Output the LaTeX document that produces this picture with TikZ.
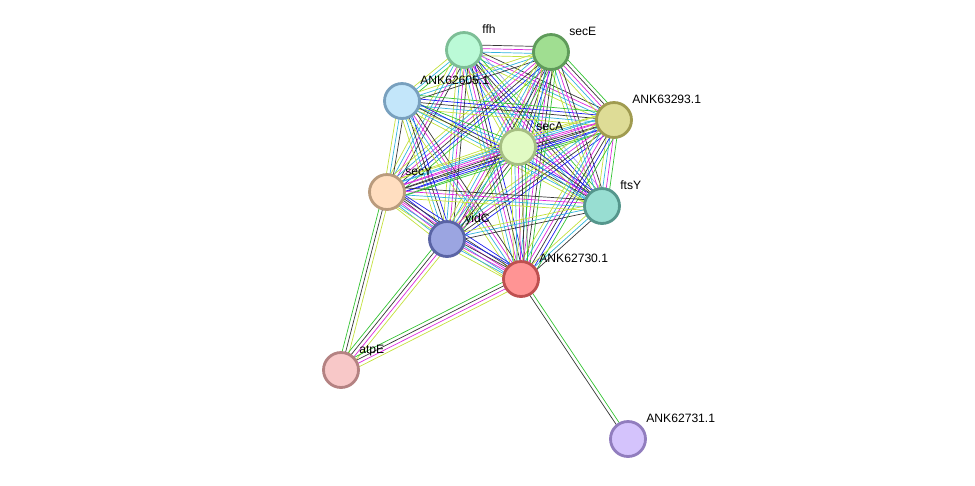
\documentclass[tikz,border=0pt]{standalone}
\usepackage{fontspec}
\setmainfont{Liberation Sans}
\usetikzlibrary{calc,backgrounds}

% evidence colours
\definecolor{textm}{RGB}{195,225,60}
\definecolor{datab}{RGB}{50,180,220}
\definecolor{exper}{RGB}{220,40,220}
\definecolor{coexp}{RGB}{55,55,55}
\definecolor{cooc}{RGB}{30,30,240}
\definecolor{neigh}{RGB}{50,195,50}
\definecolor{homol}{RGB}{165,165,240}

% protein colours
\definecolor{ffhF}{RGB}{187,250,215}   \definecolor{ffhD}{RGB}{125,190,150}
\definecolor{secEF}{RGB}{160,222,145}  \definecolor{secED}{RGB}{95,155,90}
\definecolor{aF}{RGB}{195,230,250}     \definecolor{aD}{RGB}{120,160,190}
\definecolor{bF}{RGB}{222,220,150}     \definecolor{bD}{RGB}{160,155,80}
\definecolor{secAF}{RGB}{225,250,195}  \definecolor{secAD}{RGB}{165,190,130}
\definecolor{secYF}{RGB}{255,222,192}  \definecolor{secYD}{RGB}{185,155,125}
\definecolor{ftsYF}{RGB}{152,222,210}  \definecolor{ftsYD}{RGB}{85,150,140}
\definecolor{yidCF}{RGB}{155,165,225}  \definecolor{yidCD}{RGB}{90,100,165}
\definecolor{cF}{RGB}{255,148,148}     \definecolor{cD}{RGB}{190,80,80}
\definecolor{atpEF}{RGB}{248,200,200}  \definecolor{atpED}{RGB}{180,130,130}
\definecolor{dF}{RGB}{212,195,252}     \definecolor{dD}{RGB}{145,125,190}

\tikzset{
  prot/.style args={#1/#2}{circle,minimum size=0.70cm,inner sep=0pt,line width=1.6pt,fill=#1,draw=#2},
  lbl/.style={anchor=base west,inner sep=0pt,font=\fontsize{6.9}{8}\selectfont}
}

% one line per evidence channel, side by side
\newcommand{\strlink}[3]{%
  \foreach \c [count=\k] in {#3} {\xdef\nlines{\k}}%
  \foreach \c [count=\k] in {#3} {%
    \pgfmathsetmacro{\off}{(\k-(\nlines+1)/2)*2.0}%
    \draw[\c] ($(#1)!\off pt!90:(#2)$) -- ($(#2)!\off pt!-90:(#1)$);
  }%
}

\begin{document}
\begin{tikzpicture}[x=0.02cm,y=-0.02cm]
\useasboundingbox (0,0) rectangle (975,485);

\node[prot=ffhF/ffhD] (ffh) at (464,50) {};
\node[prot=secEF/secED] (secE) at (551,52) {};
\node[prot=aF/aD] (p62605) at (402,101) {};
\node[prot=bF/bD] (p63293) at (614,120) {};
\node[prot=secAF/secAD] (secA) at (518,147) {};
\node[prot=secYF/secYD] (secY) at (387,192) {};
\node[prot=ftsYF/ftsYD] (ftsY) at (602,206) {};
\node[prot=yidCF/yidCD] (yidC) at (447,239) {};
\node[prot=cF/cD] (p62730) at (521,279) {};
\node[prot=atpEF/atpED] (atpE) at (341,370) {};
\node[prot=dF/dD] (p62731) at (628,439) {};

\foreach \n/\t in {ffh/ffh, secE/secE, p62605/ANK62605.1, p63293/ANK63293.1,
  secA/secA, secY/secY, ftsY/ftsY, yidC/yidC, p62730/ANK62730.1,
  atpE/atpE, p62731/ANK62731.1}
  \node[lbl] (\n-l) at ($(\n)+(18,-17)$) {\t};

\begin{scope}[on background layer,line width=1.1pt]
\strlink{ffh}{secE}{textm,datab,exper,coexp}
\strlink{ffh}{p62605}{textm,datab,neigh}
\strlink{ffh}{p63293}{textm,datab,exper,coexp}
\strlink{ffh}{secA}{textm,datab,exper,coexp,neigh}
\strlink{ffh}{secY}{textm,datab,exper,coexp}
\strlink{ffh}{ftsY}{textm,datab,exper,coexp,cooc,neigh,homol}
\strlink{ffh}{yidC}{textm,datab,exper,coexp}
\strlink{ffh}{p62730}{textm,datab,exper,coexp,cooc}
\strlink{secE}{p62605}{textm,datab,coexp}
\strlink{secE}{p63293}{textm,datab,exper,coexp,neigh}
\strlink{secE}{secA}{textm,datab,exper,coexp,cooc,neigh}
\strlink{secE}{secY}{textm,datab,exper,coexp,cooc,neigh}
\strlink{secE}{ftsY}{textm,datab,exper,coexp}
\strlink{secE}{yidC}{textm,datab,exper,coexp,neigh}
\strlink{secE}{p62730}{textm,datab,exper,coexp,neigh}
\strlink{p62605}{p63293}{textm,datab,coexp,cooc,neigh}
\strlink{p62605}{secA}{textm,datab,neigh}
\strlink{p62605}{secY}{textm,datab,coexp}
\strlink{p62605}{ftsY}{textm,datab,coexp,cooc}
\strlink{p62605}{yidC}{textm,datab,coexp,cooc}
\strlink{p62605}{p62730}{textm,datab,exper,coexp}
\strlink{p63293}{secA}{textm,datab,exper,coexp,cooc,neigh}
\strlink{p63293}{secY}{textm,datab,exper,coexp,cooc,neigh}
\strlink{p63293}{ftsY}{textm,datab,exper,neigh}
\strlink{p63293}{yidC}{textm,datab,exper,coexp,cooc}
\strlink{p63293}{p62730}{textm,datab,exper,coexp,cooc,neigh}
\strlink{secA}{secY}{textm,datab,exper,coexp,cooc,neigh}
\strlink{secA}{ftsY}{textm,datab,exper,coexp,cooc}
\strlink{secA}{yidC}{textm,datab,exper,coexp,neigh}
\strlink{secA}{p62730}{textm,datab,exper,coexp,neigh}
\strlink{secY}{ftsY}{textm,datab,exper,coexp}
\strlink{secY}{yidC}{textm,datab,exper,coexp,cooc}
\strlink{secY}{p62730}{textm,datab,exper,coexp,cooc}
\strlink{ftsY}{yidC}{textm,datab,coexp}
\strlink{ftsY}{p62730}{textm,datab,coexp}
\strlink{yidC}{p62730}{textm,datab,exper,coexp,cooc}
\strlink{atpE}{secY}{textm,coexp,neigh}
\strlink{atpE}{yidC}{textm,exper,coexp,neigh}
\strlink{atpE}{p62730}{textm,exper,coexp,neigh}
\strlink{p62730}{p62731}{coexp,neigh}
\end{scope}

\end{tikzpicture}
\end{document}
